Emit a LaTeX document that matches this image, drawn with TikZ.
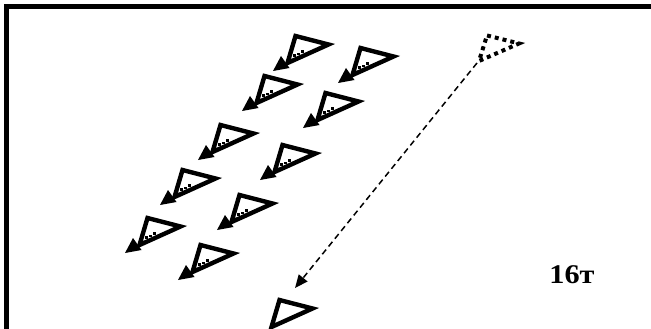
\documentclass[tikz,border=0pt]{standalone}
\usepackage{fontspec}
\setmainfont{Liberation Serif}
\usetikzlibrary{arrows.meta}
\tikzset{
  frameline/.style={line width=4.6pt, line cap=rect},
  tribody/.style={line width=4.4pt, line join=miter},
  pics/unit/.style={code={
    \draw[tribody] (2.5,3) -- (35.5,11.5) -- (-5.5,30) -- cycle;
    \fill (-20,38) -- (-3.5,35) -- (-12,23) -- cycle;
    \fill (0,21.2) rectangle ++(3,3);
    \fill (8,16.8) rectangle ++(3,3);
    \fill (4.4,19.6) rectangle ++(2.3,2.3);
  }},
  pics/plaintri/.style={code={
    \draw[tribody] (2.5,3) -- (35.5,11.5) -- (-5.5,30) -- cycle;
  }},
  dottri/.style={line width=4pt, dash pattern=on 4pt off 4pt, line join=miter},
  moveline/.style={line width=1.5pt, dash pattern=on 6pt off 4pt, -{Triangle[length=13pt,width=11pt]}},
  lbl/.style={font=\fontsize{27}{32}\selectfont\bfseries, inner sep=0pt, xscale=1.12}
}
\begin{document}
\begin{tikzpicture}[x=1pt,y=-1pt]
\useasboundingbox (0,0) rectangle (651,329);
\fill[white] (0,0) rectangle (651,329);
\clip (0,0) rectangle (651,329);
\draw[frameline] (6.7,340) -- (6.7,6.7) -- (660,6.7);
\pic at (293,33) {unit};
\pic at (358,45) {unit};
\pic at (262,73) {unit};
\pic at (323,90) {unit};
\pic at (218,122) {unit};
\pic at (280,142) {unit};
\pic at (180,167) {unit};
\pic at (237,192) {unit};
\pic at (145,215) {unit};
\pic at (198,242) {unit};
\pic at (277,297) {plaintri};
\draw[dottri] (487,35.5) -- (519,43.5) -- (479,61) -- cycle;
\coordinate (src) at (477,63);
\coordinate (dst) at (295,288);
\draw[moveline] (src) -- (dst);
\node[lbl] (label) at (572,275) {16т};
\end{tikzpicture}
\end{document}
